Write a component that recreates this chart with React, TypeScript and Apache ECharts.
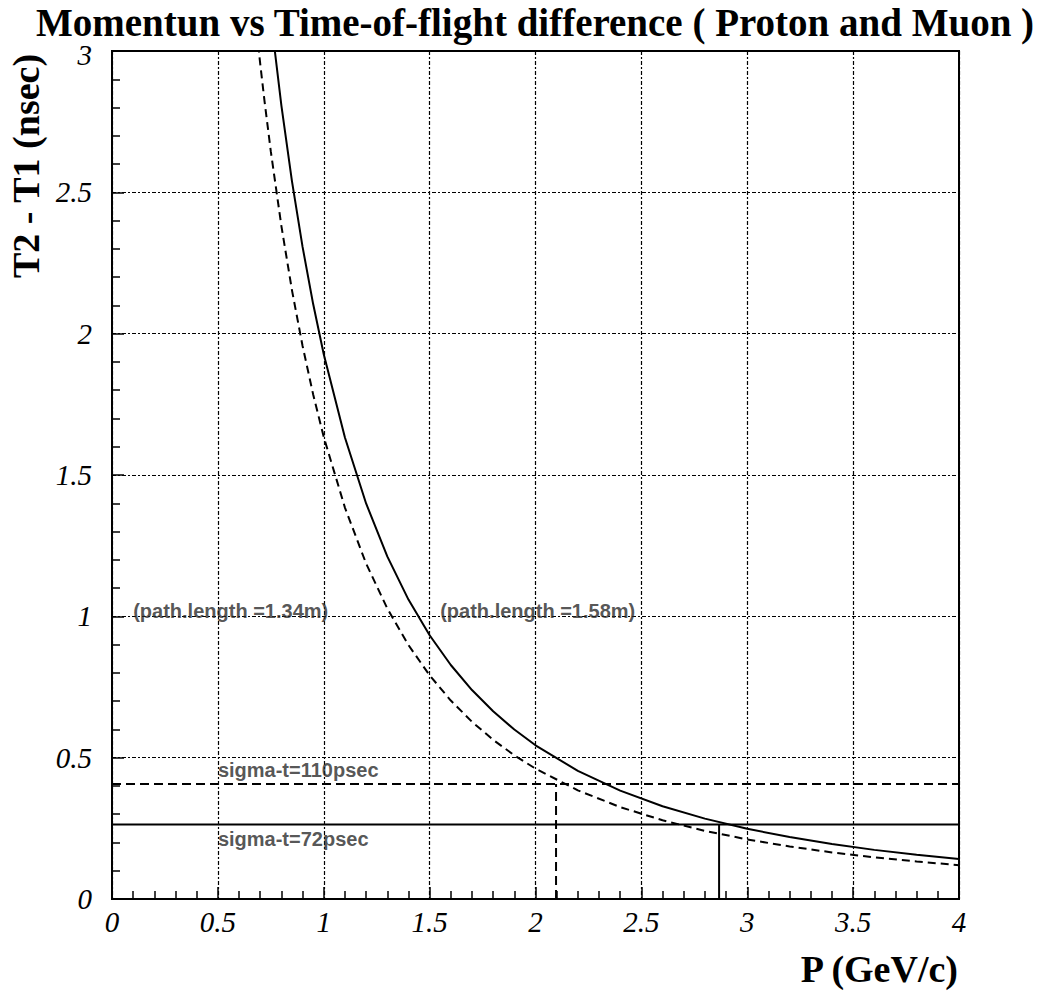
import React, { useEffect, useRef } from "react";
import * as echarts from "echarts";

// Momentum P (GeV/c) and time-of-flight difference T2 - T1 (nsec), proton vs muon
const protonMuonLong: [number, number][] = [
  [0.72, 3.3304], [0.75, 3.1185], [0.8, 2.807], [0.85, 2.539], [0.9, 2.3069],
  [0.95, 2.1047], [1.0, 1.9273], [1.1, 1.6326], [1.2, 1.3994], [1.3, 1.212],
  [1.4, 1.0592], [1.5, 0.9331], [1.6, 0.8279], [1.7, 0.7393], [1.8, 0.664],
  [1.9, 0.5995], [2.0, 0.5438], [2.2, 0.4532], [2.4, 0.3833], [2.6, 0.3283],
  [2.8, 0.2843], [3.0, 0.2485], [3.2, 0.219], [3.4, 0.1944], [3.6, 0.1738],
  [3.8, 0.1562], [4.0, 0.1412],
];
const protonMuonShort: [number, number][] = [
  [0.69, 3.0228], [0.7, 2.9545], [0.72, 2.8246], [0.75, 2.6448], [0.8, 2.3806],
  [0.85, 2.1533], [0.9, 1.9565], [0.95, 1.785], [1.0, 1.6346], [1.1, 1.3846],
  [1.2, 1.1868], [1.3, 1.0279], [1.4, 0.8983], [1.5, 0.7913], [1.6, 0.7021],
  [1.7, 0.627], [1.8, 0.5631], [1.9, 0.5084], [2.0, 0.4612], [2.2, 0.3844],
  [2.4, 0.3251], [2.6, 0.2785], [2.8, 0.2411], [3.0, 0.2108], [3.2, 0.1858],
  [3.4, 0.1649], [3.6, 0.1474], [3.8, 0.1325], [4.0, 0.1197],
];

// Separation thresholds for the two timing resolutions
const cut72: [number, number][] = [[0, 0.264], [4, 0.264]];
const cut110: [number, number][] = [[0, 0.407], [4, 0.407]];
const pLimit72: [number, number][] = [[2.867, 0], [2.867, 0.264]];
const pLimit110: [number, number][] = [[2.097, 0], [2.097, 0.407]];

// Annotation texts with their data anchors
const notes: [number, number, string][] = [
  [0.1, 1.0, "(path.length =1.34m)"],
  [1.55, 1.0, "(path.length =1.58m)"],
  [0.5, 0.44, "sigma-t=110psec"],
  [0.5, 0.195, "sigma-t=72psec"],
];

const xTicks = { min: 0, max: 4, interval: 0.5 };
const yTicks = { min: 0, max: 3, interval: 0.5 };

const SERIF = "'Liberation Serif', 'Times New Roman', serif";
const SANS = "'Liberation Sans', Arial, sans-serif";
const gridDash = [4, 2, 2, 2];

function fmt(v: number) {
  return String(v);
}

export default function App() {
  const ref = useRef<HTMLDivElement>(null);

  useEffect(() => {
    if (!ref.current) return;
    const chart = echarts.init(ref.current, undefined, { renderer: "svg" });

    const axisCommon = {
      axisLine: { show: true, lineStyle: { color: "#000", width: 2 } },
      axisTick: { show: true, inside: true, length: 12, lineStyle: { color: "#000", width: 1.5 } },
      minorTick: { show: true, splitNumber: 5, length: 8, lineStyle: { color: "#000", width: 1.5 } },
      splitLine: { show: true, lineStyle: { color: "#000", width: 1.2, type: gridDash } },
      minorSplitLine: { show: false },
    };

    chart.setOption({
      animation: false,
      backgroundColor: "#fff",
      title: {
        text: "Momentun vs Time-of-flight difference ( Proton and Muon )",
        left: 36,
        top: 14,
        padding: 0,
        textStyle: {
          fontFamily: SERIF,
          fontWeight: "bold",
          fontSize: 39,
          lineHeight: 16,
          color: "#000",
        },
      },
      grid: {
        left: 112,
        top: 51,
        width: 847,
        height: 848,
        show: true,
        borderColor: "#000",
        borderWidth: 2,
        backgroundColor: "transparent",
      },
      xAxis: {
        type: "value",
        ...xTicks,
        ...axisCommon,
        axisLabel: {
          margin: 8,
          fontFamily: SERIF,
          fontStyle: "italic",
          fontSize: 29,
          color: "#000",
          formatter: fmt,
        },
      },
      yAxis: {
        type: "value",
        ...yTicks,
        ...axisCommon,
        axisLabel: {
          margin: 20,
          fontFamily: SERIF,
          fontStyle: "italic",
          fontSize: 29,
          lineHeight: 8,
          verticalAlignMaxLabel: "top",
          color: "#000",
          formatter: fmt,
        },
      },
      graphic: [
        {
          type: "text",
          x: 26,
          y: 166,
          rotation: Math.PI / 2,
          style: {
            text: "T2 - T1 (nsec)",
            fontFamily: SERIF,
            fontWeight: "bold",
            fontSize: 38,
            fill: "#000",
            align: "center",
            verticalAlign: "middle",
          },
        },
        {
          type: "text",
          x: 958,
          y: 969,
          style: {
            text: "P (GeV/c)",
            fontFamily: SERIF,
            fontWeight: "bold",
            fontSize: 38,
            fill: "#000",
            align: "right",
            verticalAlign: "middle",
          },
        },
      ],
      series: [
        {
          name: "L = 1.58 m",
          type: "line",
          data: protonMuonLong,
          showSymbol: false,
          clip: true,
          lineStyle: { color: "#000", width: 2, type: "solid" },
          z: 5,
        },
        {
          name: "L = 1.34 m",
          type: "line",
          data: protonMuonShort,
          showSymbol: false,
          clip: true,
          lineStyle: { color: "#000", width: 2, type: [8, 5] },
          z: 5,
        },
        {
          type: "line",
          data: cut72,
          showSymbol: false,
          lineStyle: { color: "#000", width: 2, type: "solid" },
          z: 4,
        },
        {
          type: "line",
          data: cut110,
          showSymbol: false,
          lineStyle: { color: "#000", width: 2, type: [9, 5] },
          z: 4,
        },
        {
          type: "line",
          data: pLimit72,
          showSymbol: false,
          lineStyle: { color: "#000", width: 2, type: "solid" },
          z: 4,
        },
        {
          type: "line",
          data: pLimit110,
          showSymbol: false,
          lineStyle: { color: "#000", width: 2, type: [9, 5] },
          z: 4,
        },
        {
          type: "scatter",
          data: notes,
          symbolSize: 0,
          silent: true,
          z: 6,
          label: {
            show: true,
            position: [0, 0],
            align: "left",
            verticalAlign: "bottom",
            offset: [0, 5],
            formatter: (p: any) => p.data[2],
            fontFamily: SANS,
            fontWeight: "bold",
            fontSize: 20,
            color: "#2a2a2a",
          },
        },
      ],
    });

    return () => chart.dispose();
  }, []);

  return (
    <div
      ref={ref}
      style={{ position: "absolute", left: 0, top: 0, width: 1039, height: 992 }}
    />
  );
}
